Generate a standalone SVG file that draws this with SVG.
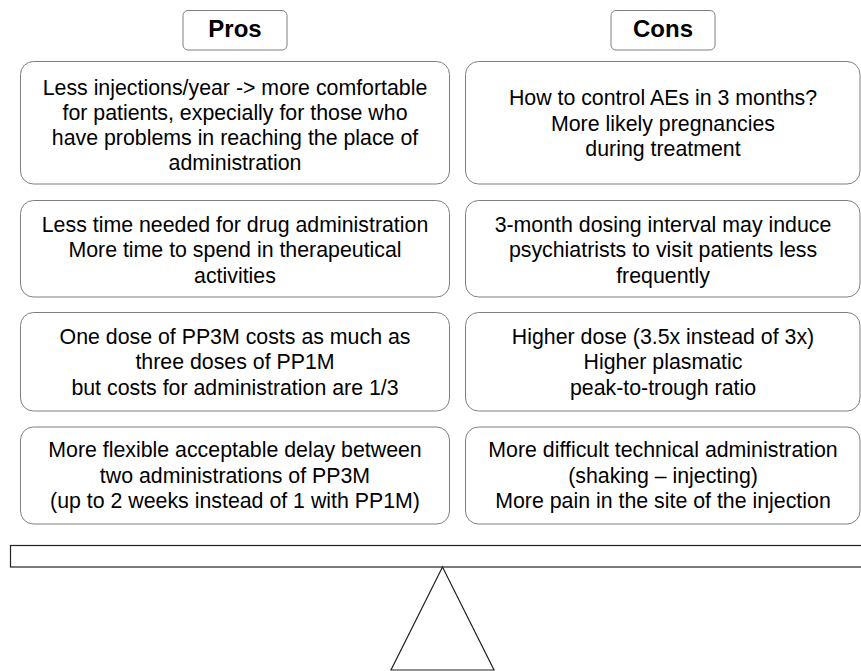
<svg xmlns="http://www.w3.org/2000/svg" width="861" height="671" viewBox="0 0 861 671">
<style>
.hdr{fill:#fff;stroke:#7f7f7f;stroke-width:1}
.box{fill:#fff;stroke:#7f7f7f;stroke-width:1}
.t{font-family:"Liberation Sans",Arial,sans-serif;font-size:21.33px;fill:#000;text-anchor:middle}
.b{font-family:"Liberation Sans",Arial,sans-serif;font-size:24px;font-weight:bold;fill:#000;text-anchor:middle}
.ln{fill:#fff;stroke:#222;stroke-width:1.2}
</style>
<rect width="861" height="671" fill="#fff"/>
<g id="pros-header">
<rect class="hdr" x="183" y="10.5" width="104" height="39.5" rx="5"/>
<text class="b" x="235" y="37">Pros</text>
</g>
<g id="cons-header">
<rect class="hdr" x="611" y="10.5" width="104" height="39.5" rx="5"/>
<text class="b" x="663" y="37">Cons</text>
</g>
<g id="pro1">
<rect class="box" x="20.5" y="61.5" width="429" height="122.5" rx="13"/>
<text class="t" x="235" y="94.5">Less injections/year -&gt; more comfortable</text>
<text class="t" x="235" y="119.5">for patients, expecially for those who</text>
<text class="t" x="235" y="144.5">have problems in reaching the place of</text>
<text class="t" x="235" y="169.5">administration</text>
</g>
<g id="con1">
<rect class="box" x="465.5" y="61.5" width="394.5" height="122.5" rx="13"/>
<text class="t" x="663" y="105">How to control AEs in 3 months?</text>
<text class="t" x="663" y="130.5">More likely pregnancies</text>
<text class="t" x="663" y="156">during treatment</text>
</g>
<g id="pro2">
<rect class="box" x="20.5" y="200.5" width="429" height="96.5" rx="13"/>
<text class="t" x="235" y="231.5">Less time needed for drug administration</text>
<text class="t" x="235" y="257">More time to spend in therapeutical</text>
<text class="t" x="235" y="282.5">activities</text>
</g>
<g id="con2">
<rect class="box" x="465.5" y="200.5" width="394.5" height="96.5" rx="13"/>
<text class="t" x="663" y="231.5">3-month dosing interval may induce</text>
<text class="t" x="663" y="257">psychiatrists to visit patients less</text>
<text class="t" x="663" y="282.5">frequently</text>
</g>
<g id="pro3">
<rect class="box" x="20.5" y="312.5" width="429" height="98.5" rx="13"/>
<text class="t" x="235" y="343.5">One dose of PP3M costs as much as</text>
<text class="t" x="235" y="369">three doses of PP1M</text>
<text class="t" x="235" y="394.5">but costs for administration are 1/3</text>
</g>
<g id="con3">
<rect class="box" x="465.5" y="312.5" width="394.5" height="98.5" rx="13"/>
<text class="t" x="663" y="343.5">Higher dose (3.5x instead of 3x)</text>
<text class="t" x="663" y="369">Higher plasmatic</text>
<text class="t" x="663" y="394.5">peak-to-trough ratio</text>
</g>
<g id="pro4">
<rect class="box" x="20.5" y="427" width="429" height="97" rx="13"/>
<text class="t" x="235" y="457">More flexible acceptable delay between</text>
<text class="t" x="235" y="482.5">two administrations of PP3M</text>
<text class="t" x="235" y="508">(up to 2 weeks instead of 1 with PP1M)</text>
</g>
<g id="con4">
<rect class="box" x="465.5" y="427" width="394.5" height="97" rx="13"/>
<text class="t" x="663" y="457">More difficult technical administration</text>
<text class="t" x="663" y="482.5">(shaking – injecting)</text>
<text class="t" x="663" y="508">More pain in the site of the injection</text>
</g>
<g id="beam">
<rect class="ln" x="10.5" y="545.5" width="860" height="21.5"/>
</g>
<g id="fulcrum">
<polygon class="ln" points="442.5,567 391,670 494,670"/>
</g>
<g id="connectors"></g>
</svg>
